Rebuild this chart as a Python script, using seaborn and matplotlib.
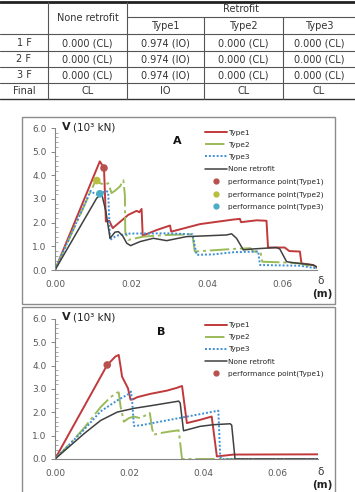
import numpy as np
import matplotlib.pyplot as plt
import seaborn as sns
import pandas as pd
from matplotlib.lines import Line2D
from matplotlib.patches import Rectangle
from matplotlib.ticker import MultipleLocator

sns.set_style("white")
plt.rcParams['font.family'] = ['DejaVu Sans']

# ---- table data ----
tbl_cols = ['None retrofit', 'Type1', 'Type2', 'Type3']
tbl_rows = ['1 F', '2 F', '3 F', 'Final']
tbl_vals = [
    ['0.000 (CL)', '0.974 (IO)', '0.000 (CL)', '0.000 (CL)'],
    ['0.000 (CL)', '0.974 (IO)', '0.000 (CL)', '0.000 (CL)'],
    ['0.000 (CL)', '0.974 (IO)', '0.000 (CL)', '0.000 (CL)'],
    ['CL', 'IO', 'CL', 'CL'],
]

# ---- chart A data (delta in m, V in 10^3 kN) ----
a_t1_x = [0, 0.0118, 0.0129, 0.0132, 0.0134, 0.0143, 0.0152, 0.0193, 0.0215, 0.0222, 0.0228, 0.0231,
          0.0268, 0.0303, 0.0306, 0.0382, 0.0469, 0.0487, 0.0490, 0.0531, 0.0557, 0.0561, 0.0605,
          0.0617, 0.0645, 0.0649, 0.0680, 0.0689]
a_t1_y = [0, 4.59, 4.31, 3.04, 2.05, 2.08, 1.77, 2.33, 2.50, 2.44, 2.58, 1.45,
          1.69, 1.88, 1.62, 1.94, 2.13, 2.16, 2.02, 2.10, 2.08, 0.95, 0.95,
          0.80, 0.78, 0.28, 0.21, 0.10]
a_t2_x = [0, 0.0110, 0.0118, 0.0132, 0.0140, 0.0149, 0.0158, 0.0171, 0.0180, 0.0184, 0.0185, 0.0193,
          0.0232, 0.0294, 0.0362, 0.0368, 0.0469, 0.0515, 0.0522, 0.0541, 0.0546, 0.0601, 0.0645, 0.0689]
a_t2_y = [0, 3.88, 3.67, 3.60, 3.67, 3.25, 3.35, 3.53, 3.79, 3.18, 1.62, 1.27,
          1.41, 1.48, 1.51, 0.78, 0.89, 0.92, 0.78, 0.78, 0.35, 0.32, 0.28, 0.10]
a_t3_x = [0, 0.0094, 0.0105, 0.0118, 0.0134, 0.0140, 0.0145, 0.0162, 0.0197, 0.0294, 0.0362, 0.0373,
          0.0417, 0.0469, 0.0535, 0.0540, 0.0645, 0.0689]
a_t3_y = [0, 3.35, 3.21, 3.18, 3.35, 3.29, 1.27, 1.45, 1.54, 1.55, 1.51, 0.64,
          0.66, 0.75, 0.78, 0.21, 0.18, 0.07]
a_nr_x = [0, 0.0110, 0.0123, 0.0134, 0.0145, 0.0158, 0.0167, 0.0178, 0.0189, 0.0199, 0.0224, 0.0259,
          0.0294, 0.0346, 0.0452, 0.0465, 0.0478, 0.0496, 0.0522, 0.0583, 0.0592, 0.0610, 0.0627,
          0.0680, 0.0689]
a_nr_y = [0, 3.04, 3.22, 2.47, 1.34, 1.60, 1.62, 1.45, 1.13, 1.03, 1.20, 1.34,
          1.24, 1.41, 1.48, 1.53, 1.34, 0.85, 0.89, 0.95, 0.89, 0.35, 0.31,
          0.21, 0.14]
a_pp_x = [0.0129, 0.0110, 0.0118]
a_pp_y = [4.31, 3.78, 3.22]

# ---- chart B data ----
b_t1_x = [0, 0.0141, 0.0163, 0.0172, 0.0177, 0.0181, 0.0190, 0.0197, 0.0204, 0.0211, 0.0222, 0.0257,
          0.0302, 0.0329, 0.0343, 0.0356, 0.0392, 0.0423, 0.0437, 0.0482, 0.0710]
b_t1_y = [0, 4.03, 4.39, 4.46, 3.96, 3.53, 3.25, 3.03, 2.54, 2.56, 2.65, 2.79,
          2.93, 3.05, 3.13, 1.54, 1.68, 1.82, 0.11, 0.19, 0.20]
b_t2_x = [0, 0.0042, 0.0078, 0.0123, 0.0150, 0.0168, 0.0172, 0.0177, 0.0182, 0.0186, 0.0199, 0.0213,
          0.0230, 0.0256, 0.0262, 0.0266, 0.0284, 0.0311, 0.0334, 0.0338, 0.0343, 0.0710]
b_t2_y = [0, 0.68, 1.32, 2.22, 2.65, 2.85, 2.85, 2.25, 1.89, 1.60, 1.75, 1.82,
          1.75, 1.97, 1.32, 1.04, 1.11, 1.18, 1.23, 0.68, 0.00, 0.00]
b_t3_x = [0, 0.0078, 0.0123, 0.0168, 0.0199, 0.0205, 0.0208, 0.0213, 0.0230, 0.0441, 0.0446, 0.0450, 0.0710]
b_t3_y = [0, 1.25, 2.04, 2.51, 2.79, 2.89, 2.54, 1.42, 1.44, 2.07, 0.11, 0.00, 0.00]
b_nr_x = [0, 0.0078, 0.0123, 0.0168, 0.0213, 0.0257, 0.0334, 0.0338, 0.0347, 0.0392, 0.0428, 0.0473,
          0.0477, 0.0486, 0.0710]
b_nr_y = [0, 1.08, 1.65, 2.01, 2.17, 2.28, 2.48, 2.39, 1.21, 1.40, 1.47, 1.51,
          1.45, 0.00, 0.00]
b_pp_x = [0.0141]
b_pp_y = [4.03]

series_names = ['Type1', 'Type2', 'Type3', 'None retrofit']
pp_names = ['performance point(Type1)', 'performance point(Type2)', 'performance point(Type3)']

c_t1 = '#C0393B'
c_t2 = '#9BBB59'
c_t3 = '#3D8FD6'
c_nr = '#404040'
pp_colors = ['#B8504E', '#B9BE3E', '#4BACC6']
styles = {
    'Type1': dict(color=c_t1, linestyle='-', lw=1.4),
    'Type2': dict(color=c_t2, linestyle=(0, (10, 2, 1.5, 2)), lw=1.4),
    'Type3': dict(color=c_t3, linestyle=(0, (1, 1)), lw=1.4),
    'None retrofit': dict(color=c_nr, linestyle='-', lw=1.1),
}

W, H = 355, 492
fig = plt.figure(figsize=(W / 100, H / 100), dpi=100)
bg = fig.add_axes([0, 0, 1, 1])
bg.set_xlim(0, W)
bg.set_ylim(H, 0)
bg.axis('off')

# ---- table ----
col_edges = [0, 48, 127, 204, 283, 355]
row_edges = [34, 51, 67, 83, 99]
tc = '#333333'
bg.plot([0, W], [1.5, 1.5], color='#222222', lw=2)
bg.plot([127, W], [17, 17], color='#555555', lw=0.8)
for y in row_edges[:-1]:
    bg.plot([0, W], [y, y], color='#555555', lw=0.8)
bg.plot([0, W], [99, 99], color='#333333', lw=1.0)
for x in col_edges[1:-1]:
    y0 = 17 if x in (204, 283) else 1.5
    bg.plot([x, x], [y0, 99], color='#555555', lw=0.8)
fs_t = 7
bg.text((48 + 127) / 2, 18, tbl_cols[0], ha='center', va='center', fontsize=fs_t, color=tc)
bg.text((127 + 355) / 2, 9.5, 'Retrofit', ha='center', va='center', fontsize=fs_t, color=tc)
for i, name in enumerate(tbl_cols[1:]):
    xc = (col_edges[i + 2] + col_edges[i + 3]) / 2
    bg.text(xc, 26, name, ha='center', va='center', fontsize=fs_t, color=tc)
for r, (rname, vals) in enumerate(zip(tbl_rows, tbl_vals)):
    yc = (row_edges[r] + row_edges[r + 1]) / 2 + 0.5
    bg.text(24, yc, rname, ha='center', va='center', fontsize=fs_t, color=tc)
    for c, v in enumerate(vals):
        xc = (col_edges[c + 1] + col_edges[c + 2]) / 2
        bg.text(xc, yc, v, ha='center', va='center', fontsize=fs_t, color=tc)

# ---- chart frames ----
bg.add_patch(Rectangle((22, 117), 313, 187, fill=False, ec='#8C8C8C', lw=1))
bg.add_patch(Rectangle((22, 307), 313, 190, fill=False, ec='#8C8C8C', lw=1))


def make_axes(left_px, right_px, y0_px, y6_px):
    ax = fig.add_axes([left_px / W, (H - y0_px) / H, (right_px - left_px) / W, (y0_px - y6_px) / H])
    ax.set_facecolor('none')
    return ax


def style_axes(ax, xmax):
    ax.set_xlim(0, xmax)
    ax.set_ylim(0, 6)
    ax.set_xticks([0, 0.02, 0.04, 0.06])
    ax.set_xticklabels(['0.00', '0.02', '0.04', '0.06'])
    ax.set_yticks([0, 1, 2, 3, 4, 5, 6])
    ax.set_yticklabels(['0.0', '1.0', '2.0', '3.0', '4.0', '5.0', '6.0'])
    ax.yaxis.set_minor_locator(MultipleLocator(0.2))
    ax.tick_params(axis='x', length=0, pad=7, labelsize=6.5, labelcolor='#595959')
    ax.tick_params(axis='y', which='major', length=3, width=0.7, color='#868686', direction='out',
                   pad=3, labelsize=6.5, labelcolor='#595959', left=True)
    ax.tick_params(axis='y', which='minor', length=2, width=0.5, color='#868686', direction='in', left=True)
    for s in ['top', 'right']:
        ax.spines[s].set_visible(False)
    for s in ['left', 'bottom']:
        ax.spines[s].set_color('#868686')
        ax.spines[s].set_linewidth(0.8)
    ax.set_xlabel('')
    ax.set_ylabel('')


def draw_lines(ax, xs, ys):
    for name, x, y in zip(series_names, xs, ys):
        df = pd.DataFrame({'d': x, 'v': y})
        sns.lineplot(data=df, x='d', y='v', sort=False, estimator=None, ax=ax, **styles[name])


def line_handles():
    return [Line2D([], [], **styles[n]) for n in series_names]


# ---- chart A ----
axA = make_axes(55, 317, 270, 128)
draw_lines(axA, [a_t1_x, a_t2_x, a_t3_x, a_nr_x], [a_t1_y, a_t2_y, a_t3_y, a_nr_y])
sns.scatterplot(x=a_pp_x, y=a_pp_y, hue=pp_names, palette=pp_colors, s=30, ax=axA,
                edgecolor='none', legend=False, zorder=5)
style_axes(axA, 0.069)
hA = line_handles() + [Line2D([], [], marker='o', ls='none', color=c, markersize=3.5) for c in pp_colors]
axA.legend(hA, series_names + pp_names, loc='upper left', bbox_to_anchor=(0.56, 1.01), frameon=False,
           fontsize=5.3, handlelength=3.0, handletextpad=0.15, labelspacing=0.82, borderaxespad=0)

# ---- chart B ----
axB = make_axes(55, 318, 459, 319)
draw_lines(axB, [b_t1_x, b_t2_x, b_t3_x, b_nr_x], [b_t1_y, b_t2_y, b_t3_y, b_nr_y])
sns.scatterplot(x=b_pp_x, y=b_pp_y, color=pp_colors[0], s=30, ax=axB, edgecolor='none', zorder=5)
style_axes(axB, 0.071)
hB = line_handles() + [Line2D([], [], marker='o', ls='none', color=pp_colors[0], markersize=3.5)]
axB.legend(hB, series_names + pp_names[:1], loc='upper left', bbox_to_anchor=(0.56, 1.0), frameon=False,
           fontsize=5.3, handlelength=3.0, handletextpad=0.15, labelspacing=0.82, borderaxespad=0)

# ---- axis captions ----
for yv, letter, lx, ly, dy in [(127, 'A', 177, 141, 281), (317, 'B', 161, 332, 472)]:
    bg.text(62, yv, 'V', ha='left', va='center', fontsize=8, fontweight='bold', color='#222222')
    bg.text(73, yv, '(10³ kN)', ha='left', va='center', fontsize=7.5, color='#222222')
    bg.text(lx, ly, letter, ha='center', va='center', fontsize=8, fontweight='bold', color='#111111')
    bg.text(321, dy, 'δ', ha='center', va='center', fontsize=7.5, color='#333333')
    bg.text(322, dy + 13, '(m)', ha='center', va='center', fontsize=7.5, fontweight='bold', color='#222222')

fig.savefig('out.png', dpi=100)
plt.close(fig)
